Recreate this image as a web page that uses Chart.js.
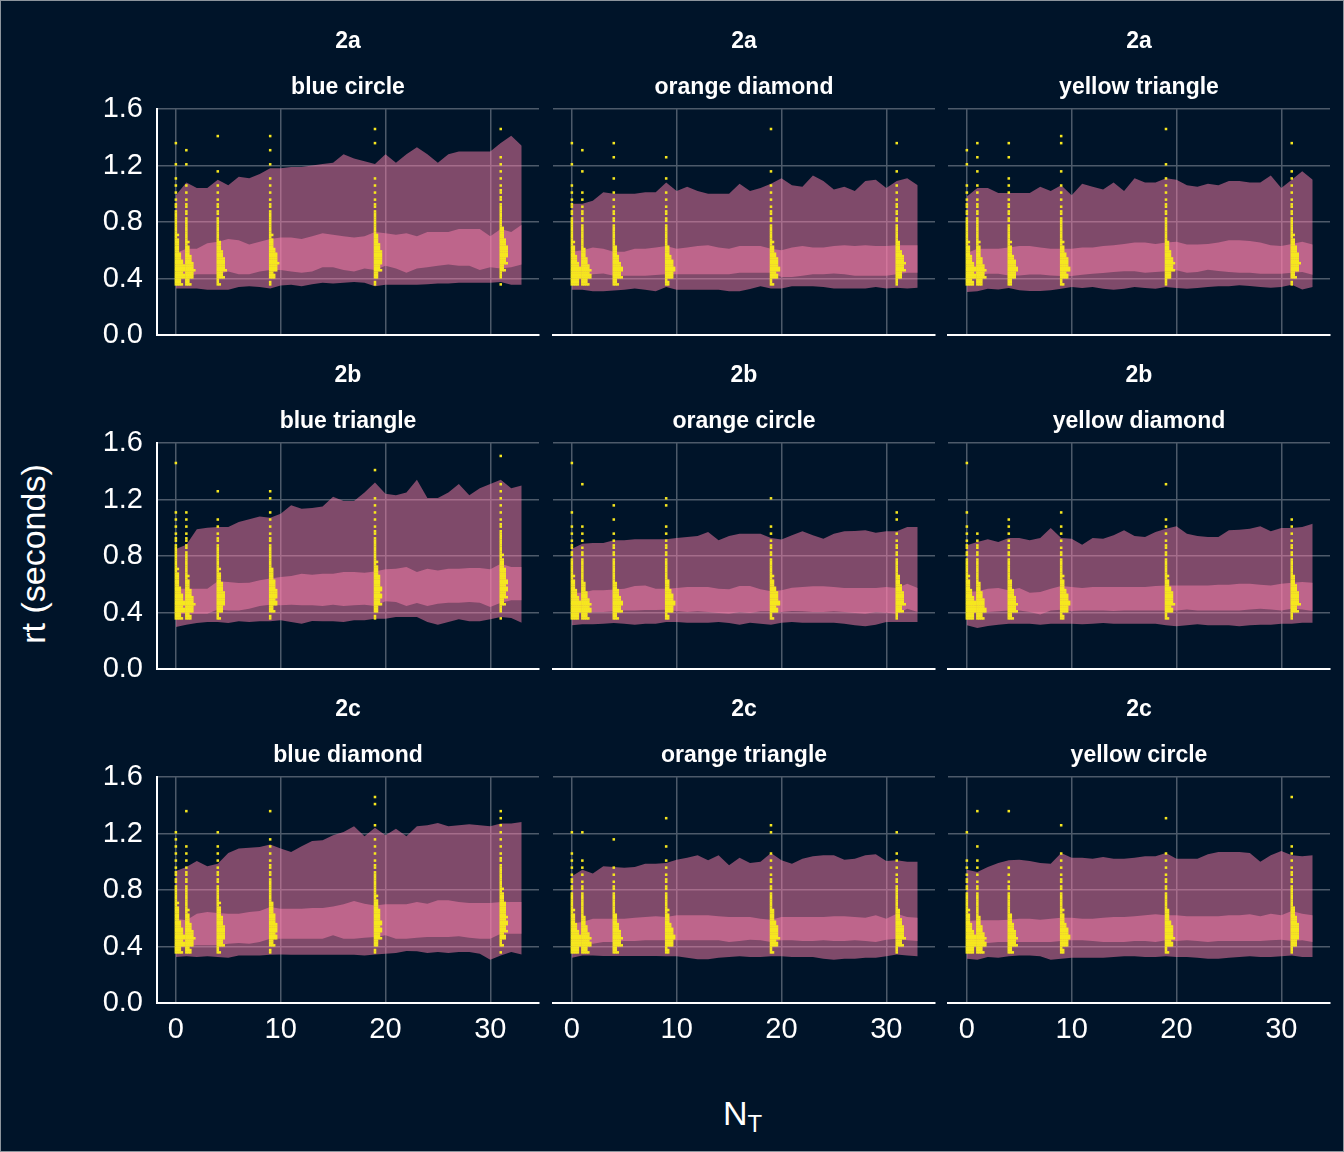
<!DOCTYPE html>
<html>
<head>
<meta charset="utf-8">
<script src="https://cdn.jsdelivr.net/npm/chart.js@4.4.1/dist/chart.umd.min.js"></script>
<style>
  html, body { margin: 0; padding: 0; background: #001429; }
  #fig { position: relative; width: 1344px; height: 1152px; overflow: hidden; background: #001429; }
  #fig canvas { position: absolute; }
  #frame { position: absolute; left: 0; top: 0; width: 1344px; height: 1152px; box-sizing: border-box; border: 1px solid #8c949c; pointer-events: none; }
  #ytitle { position: absolute; left: 33px; top: 554px; transform: translate(-50%, -50%) rotate(-90deg); color: #ffffff; font-family: 'Liberation Sans', Arial, sans-serif; font-size: 34px; line-height: 34px; white-space: nowrap; }
  #xtitle { position: absolute; left: 723px; top: 1096px; color: #ffffff; font-family: 'Liberation Sans', Arial, sans-serif; font-size: 34px; line-height: 34px; white-space: nowrap; }
  #xtitle span { font-size: 24px; position: relative; top: 7px; }
</style>
</head>
<body>
<div id="fig">
  <div id="ytitle">rt (seconds)</div>
  <div id="xtitle">N<span>T</span></div>
  <div id="frame"></div>
</div>
<script>
// ---------------- DATA ----------------
const stripTop = ['2a', '2a', '2a', '2b', '2b', '2b', '2c', '2c', '2c'];
const stripBottom = ['blue circle', 'orange diamond', 'yellow triangle',
                     'blue triangle', 'orange circle', 'yellow diamond',
                     'blue diamond', 'orange triangle', 'yellow circle'];
const xTicks = [0, 10, 20, 30];
const yTicks = [0, 0.4, 0.8, 1.2, 1.6];
// ribbon x positions (N_T)
const bandX = [0,1,2,3,4,5,6,7,8,9,10,11,12,13,14,15,16,17,18,19,20,21,22,23,24,25,26,27,28,29,30,31,32,33];
// observed-point columns (N_T values)
const dotColumnsX = [0, 1, 4, 9, 19, 31];
// dot histogram bins: lower edge of first bin and bin width (rt, seconds)
const dotBinStart = 0.35;
const dotBinWidth = 0.05;

// blue circle (2a)
const p1OuterHi = [0.99,1.08,1.04,1.04,1.10,1.06,1.12,1.11,1.14,1.18,1.18,1.19,1.19,1.20,1.21,1.22,1.28,1.25,1.23,1.21,1.28,1.22,1.28,1.33,1.28,1.22,1.28,1.30,1.30,1.30,1.30,1.36,1.41,1.34];
const p1InnerHi = [0.58,0.61,0.61,0.65,0.66,0.68,0.67,0.64,0.66,0.68,0.69,0.69,0.68,0.70,0.72,0.71,0.70,0.69,0.70,0.73,0.72,0.71,0.72,0.70,0.73,0.73,0.73,0.75,0.75,0.75,0.70,0.75,0.73,0.78];
const p1InnerLo = [0.42,0.42,0.43,0.43,0.43,0.45,0.43,0.43,0.45,0.46,0.46,0.45,0.44,0.45,0.48,0.48,0.46,0.45,0.47,0.46,0.49,0.47,0.44,0.47,0.48,0.49,0.50,0.49,0.49,0.46,0.48,0.47,0.48,0.50];
const p1OuterLo = [0.33,0.33,0.33,0.32,0.32,0.32,0.34,0.345,0.34,0.33,0.35,0.355,0.345,0.36,0.37,0.365,0.37,0.375,0.37,0.345,0.355,0.355,0.355,0.355,0.36,0.365,0.365,0.37,0.37,0.37,0.37,0.375,0.355,0.355];
const p1Dots = [
  [10,14,15,11,8,6,5,4,3,3,2,2,1,1,1,1,0,1,0,0,1,0,0,0],
  [7,12,13,10,7,5,4,3,3,2,2,2,1,1,1,0,0,1,0,1,0,0,0,0],
  [4,10,13,12,9,6,4,3,3,2,2,2,1,1,1,0,1,0,0,0,0,1,0,0],
  [2,8,12,13,11,7,5,4,3,3,2,2,1,1,1,1,0,1,0,1,0,1,0,0],
  [2,6,10,12,12,9,6,4,3,3,2,2,1,1,1,1,0,0,0,0,1,0,1,0],
  [1,3,7,10,12,11,8,6,4,3,3,2,2,2,1,1,1,1,1,0,0,0,1,0]
];

// orange diamond (2a)
const p2OuterHi = [0.93,0.93,0.95,1.01,1.00,1.00,1.00,1.01,1.01,1.08,1.02,1.05,1.02,1.00,1.00,1.00,1.07,1.02,1.04,1.07,1.11,1.06,1.05,1.13,1.09,1.03,1.05,1.02,1.09,1.10,1.04,1.09,1.11,1.06];
const p2InnerHi = [0.59,0.60,0.62,0.61,0.59,0.59,0.61,0.61,0.62,0.63,0.61,0.62,0.63,0.635,0.62,0.61,0.63,0.63,0.63,0.61,0.60,0.62,0.63,0.62,0.62,0.63,0.635,0.63,0.635,0.63,0.63,0.635,0.635,0.635];
const p2InnerLo = [0.41,0.41,0.43,0.435,0.42,0.42,0.42,0.42,0.425,0.43,0.43,0.43,0.43,0.43,0.43,0.43,0.44,0.44,0.44,0.44,0.41,0.41,0.42,0.43,0.43,0.435,0.43,0.42,0.42,0.42,0.42,0.43,0.44,0.44];
const p2OuterLo = [0.32,0.32,0.31,0.31,0.315,0.32,0.33,0.32,0.31,0.34,0.32,0.32,0.32,0.32,0.32,0.31,0.31,0.325,0.345,0.33,0.33,0.345,0.345,0.345,0.34,0.33,0.33,0.33,0.33,0.34,0.33,0.335,0.33,0.335];
const p2Dots = [
  [12,15,14,10,7,5,4,3,3,2,2,2,1,1,1,0,0,1,0,0,1,0,0,0],
  [10,14,13,9,6,4,3,3,2,2,2,1,1,1,0,0,1,0,0,1,0,0,0,0],
  [7,13,14,10,7,5,3,3,2,2,2,1,1,1,0,1,0,0,1,0,1,0,0,0],
  [5,12,14,11,7,5,3,3,2,2,2,1,1,1,0,1,0,0,1,0,0,0,0,0],
  [4,11,14,12,8,5,4,3,2,2,2,1,1,1,1,0,1,0,0,0,0,0,1,0],
  [3,9,13,13,10,6,4,3,2,2,2,2,1,1,1,0,1,0,0,0,1,0,0,0]
];

// yellow triangle (2a)
const p3OuterHi = [0.98,1.04,1.04,1.005,1.005,1.005,1.005,1.05,1.02,1.06,0.99,1.07,1.05,1.03,1.08,1.02,1.11,1.08,1.08,1.11,1.10,1.06,1.05,1.07,1.06,1.09,1.09,1.08,1.08,1.13,1.04,1.10,1.16,1.10];
const p3InnerHi = [0.58,0.61,0.61,0.61,0.62,0.63,0.63,0.62,0.61,0.61,0.61,0.62,0.62,0.63,0.635,0.645,0.655,0.655,0.645,0.655,0.66,0.64,0.64,0.645,0.655,0.67,0.67,0.665,0.655,0.635,0.63,0.645,0.66,0.64];
const p3InnerLo = [0.415,0.427,0.434,0.434,0.422,0.422,0.429,0.429,0.422,0.418,0.418,0.427,0.434,0.439,0.446,0.451,0.451,0.441,0.446,0.451,0.458,0.441,0.446,0.462,0.453,0.446,0.441,0.441,0.434,0.434,0.434,0.441,0.446,0.427];
const p3OuterLo = [0.304,0.309,0.328,0.323,0.333,0.316,0.312,0.312,0.316,0.328,0.340,0.333,0.340,0.328,0.321,0.328,0.340,0.333,0.328,0.340,0.333,0.328,0.333,0.340,0.345,0.345,0.352,0.347,0.340,0.335,0.340,0.356,0.323,0.340];
const p3Dots = [
  [11,14,14,10,7,5,4,3,3,2,2,2,1,1,1,0,0,1,0,1,0,0,0,0],
  [9,13,13,9,6,5,4,3,3,2,2,2,1,1,1,0,1,0,1,0,1,0,0,0],
  [6,12,14,11,7,5,4,3,2,2,2,2,1,1,1,1,0,0,1,0,1,0,0,0],
  [4,11,14,12,8,5,4,3,3,2,2,1,1,1,1,0,1,0,0,0,1,1,0,0],
  [3,9,13,13,9,6,4,3,3,2,2,2,1,1,1,1,0,1,0,0,0,0,1,0],
  [2,7,12,13,11,8,5,4,3,2,2,2,1,1,1,1,1,0,0,0,1,0,0,0]
];

// blue triangle (2b)
const p4OuterHi = [0.85,0.88,0.99,1.00,1.005,1.005,1.04,1.06,1.08,1.07,1.10,1.16,1.135,1.14,1.15,1.22,1.19,1.19,1.25,1.32,1.24,1.23,1.25,1.34,1.21,1.21,1.25,1.31,1.23,1.28,1.31,1.34,1.28,1.30];
const p4InnerHi = [0.569,0.569,0.569,0.569,0.621,0.616,0.609,0.611,0.628,0.640,0.651,0.658,0.675,0.668,0.675,0.675,0.687,0.687,0.682,0.691,0.706,0.710,0.722,0.687,0.710,0.698,0.710,0.710,0.715,0.715,0.706,0.746,0.722,0.722];
const p4InnerLo = [0.392,0.392,0.392,0.392,0.422,0.415,0.415,0.427,0.446,0.455,0.451,0.455,0.451,0.451,0.446,0.455,0.446,0.451,0.455,0.446,0.479,0.474,0.446,0.467,0.446,0.462,0.469,0.469,0.474,0.469,0.439,0.469,0.486,0.486];
const p4OuterLo = [0.297,0.314,0.326,0.333,0.333,0.326,0.338,0.333,0.338,0.338,0.345,0.333,0.321,0.340,0.338,0.338,0.333,0.345,0.345,0.356,0.356,0.368,0.368,0.368,0.333,0.314,0.333,0.352,0.338,0.338,0.352,0.368,0.361,0.328];
const p4Dots = [
  [10,14,14,11,8,6,5,4,3,3,2,2,1,1,1,1,0,0,0,0,0,0,1,0],
  [8,12,13,10,7,5,4,3,3,2,2,2,1,1,1,1,0,0,0,0,0,0,0,0],
  [4,9,12,12,9,7,5,4,3,3,2,2,1,1,1,0,0,0,1,0,0,0,0,0],
  [2,7,11,12,10,8,6,4,3,3,2,2,1,1,1,1,0,1,1,0,0,0,0,0],
  [2,6,10,11,11,9,7,5,4,3,3,2,2,1,1,1,1,1,0,0,0,1,0,0],
  [1,3,7,10,11,11,9,7,5,4,3,3,2,2,1,1,1,1,1,1,0,0,0,1]
];

// orange circle (2b)
const p5OuterHi = [0.852,0.887,0.892,0.892,0.911,0.911,0.918,0.918,0.918,0.918,0.927,0.934,0.942,0.970,0.911,0.942,0.958,0.958,0.958,0.927,0.916,0.947,0.975,0.947,0.922,0.958,0.975,0.977,0.982,0.965,0.975,0.975,1.005,1.005];
const p5InnerHi = [0.540,0.540,0.557,0.557,0.562,0.569,0.588,0.592,0.569,0.569,0.573,0.581,0.581,0.581,0.569,0.564,0.588,0.588,0.564,0.550,0.557,0.576,0.581,0.585,0.585,0.581,0.573,0.573,0.573,0.573,0.581,0.573,0.604,0.573];
const p5InnerLo = [0.404,0.404,0.404,0.404,0.408,0.415,0.415,0.418,0.418,0.420,0.411,0.404,0.408,0.404,0.396,0.392,0.404,0.396,0.408,0.408,0.404,0.410,0.408,0.404,0.404,0.408,0.404,0.396,0.392,0.404,0.399,0.392,0.427,0.404];
const p5OuterLo = [0.309,0.316,0.316,0.321,0.326,0.321,0.314,0.321,0.321,0.333,0.333,0.328,0.328,0.328,0.333,0.326,0.314,0.328,0.321,0.314,0.328,0.333,0.328,0.328,0.328,0.328,0.321,0.309,0.302,0.314,0.333,0.333,0.333,0.333];
const p5Dots = [
  [12,15,14,10,7,5,4,3,2,2,2,1,1,1,0,1,0,0,0,0,0,0,1,0],
  [10,14,13,9,6,4,3,3,2,2,1,1,1,1,0,0,0,0,0,1,0,0,0,0],
  [7,13,14,10,7,4,3,3,2,2,2,1,1,0,1,0,1,0,0,0,0,0,0,0],
  [5,12,14,11,7,5,3,3,2,2,2,1,1,1,0,0,1,1,0,0,0,0,0,0],
  [4,11,14,12,8,5,4,3,2,2,2,1,1,1,0,0,0,1,0,0,0,0,0,0],
  [3,10,13,12,9,6,4,3,2,2,2,1,1,0,1,1,0,0,0,0,0,0,0,0]
];

// yellow diamond (2b)
const p6OuterHi = [0.876,0.899,0.918,0.899,0.927,0.927,0.911,0.927,0.998,0.927,0.922,0.880,0.927,0.922,0.947,0.982,0.942,0.934,0.970,0.993,1.010,0.958,0.942,0.934,0.934,0.982,0.986,0.993,1.010,0.975,0.998,0.998,1.005,1.029];
const p6InnerHi = [0.545,0.550,0.569,0.573,0.557,0.573,0.540,0.545,0.569,0.588,0.581,0.573,0.581,0.581,0.581,0.581,0.581,0.581,0.588,0.592,0.592,0.592,0.592,0.592,0.597,0.597,0.604,0.604,0.597,0.592,0.604,0.611,0.616,0.611];
const p6InnerLo = [0.392,0.404,0.404,0.408,0.415,0.415,0.404,0.385,0.415,0.420,0.410,0.415,0.415,0.415,0.410,0.415,0.415,0.415,0.415,0.415,0.415,0.422,0.415,0.415,0.415,0.415,0.415,0.422,0.427,0.422,0.415,0.427,0.422,0.410];
const p6OuterLo = [0.309,0.290,0.304,0.314,0.321,0.321,0.321,0.314,0.321,0.321,0.321,0.316,0.321,0.326,0.321,0.321,0.321,0.321,0.321,0.309,0.302,0.309,0.316,0.309,0.309,0.309,0.302,0.309,0.314,0.314,0.321,0.321,0.328,0.328];
const p6Dots = [
  [12,15,14,10,7,5,4,3,2,2,2,1,1,1,0,1,0,0,0,0,0,0,1,0],
  [10,14,12,9,6,4,3,3,2,2,2,1,1,0,0,0,0,0,0,0,0,0,0,0],
  [7,13,13,10,7,5,3,3,2,2,2,1,1,1,1,0,0,0,0,0,0,0,0,0],
  [5,12,14,11,7,5,4,3,2,2,1,1,1,1,0,1,0,0,0,0,0,0,0,0],
  [4,11,13,12,8,5,4,3,2,2,2,1,1,1,1,0,0,0,0,1,0,0,0,0],
  [3,10,13,12,9,6,4,3,2,2,2,1,1,1,1,0,0,0,0,0,0,0,0,0]
];

// blue diamond (2c)
const p7OuterHi = [0.935,0.963,1.005,0.968,0.986,1.062,1.093,1.100,1.104,1.123,1.093,1.069,1.109,1.147,1.152,1.187,1.211,1.251,1.180,1.241,1.187,1.234,1.180,1.251,1.258,1.274,1.251,1.258,1.265,1.258,1.251,1.270,1.270,1.281];
const p7InnerHi = [0.597,0.585,0.632,0.644,0.637,0.632,0.632,0.644,0.651,0.680,0.668,0.668,0.668,0.672,0.672,0.684,0.699,0.722,0.703,0.691,0.699,0.699,0.699,0.715,0.703,0.727,0.727,0.715,0.708,0.708,0.708,0.715,0.715,0.715];
const p7InnerLo = [0.396,0.401,0.408,0.408,0.408,0.420,0.425,0.420,0.432,0.455,0.455,0.455,0.455,0.455,0.455,0.479,0.455,0.455,0.462,0.467,0.479,0.455,0.455,0.462,0.467,0.467,0.467,0.472,0.462,0.455,0.455,0.491,0.491,0.491];
const p7OuterLo = [0.326,0.331,0.326,0.331,0.326,0.321,0.337,0.337,0.337,0.342,0.344,0.342,0.342,0.342,0.342,0.342,0.342,0.342,0.337,0.344,0.349,0.354,0.368,0.366,0.354,0.361,0.354,0.361,0.361,0.349,0.307,0.337,0.361,0.344];
const p7Dots = [
  [10,14,14,11,8,6,5,4,3,2,2,2,1,1,1,1,1,1,0,0,0,0,0,0],
  [8,12,13,10,7,5,4,3,3,2,2,2,1,1,1,1,0,0,0,0,1,0,0,0],
  [4,10,12,12,9,7,5,4,3,2,2,2,1,1,1,1,0,1,0,0,0,0,0,0],
  [2,7,11,12,10,8,6,4,3,3,2,2,2,1,1,1,1,0,0,0,1,0,0,0],
  [2,6,10,11,11,9,7,5,4,3,3,2,2,1,1,1,1,0,1,0,0,1,1,0],
  [1,4,8,10,11,10,9,7,5,4,3,3,2,2,1,1,1,1,1,1,1,0,0,0]
];

// orange triangle (2c)
const p8OuterHi = [0.897,0.944,0.916,0.968,0.963,0.958,0.963,0.986,0.986,0.991,1.015,1.029,1.046,1.010,1.046,0.975,1.029,0.991,1.000,1.062,1.010,0.986,1.022,1.039,1.046,1.046,1.015,1.022,1.046,1.053,1.005,1.010,1.000,1.000];
const p8InnerHi = [0.562,0.573,0.597,0.597,0.597,0.597,0.604,0.609,0.614,0.609,0.621,0.621,0.621,0.621,0.614,0.609,0.609,0.609,0.597,0.590,0.609,0.609,0.609,0.609,0.609,0.614,0.614,0.609,0.604,0.621,0.597,0.632,0.609,0.604];
const p8InnerLo = [0.415,0.425,0.420,0.432,0.432,0.439,0.439,0.444,0.444,0.444,0.444,0.444,0.444,0.444,0.444,0.432,0.439,0.448,0.444,0.432,0.444,0.444,0.439,0.439,0.444,0.439,0.439,0.444,0.439,0.432,0.448,0.455,0.444,0.439];
const p8OuterLo = [0.321,0.337,0.337,0.333,0.333,0.333,0.333,0.333,0.333,0.331,0.331,0.321,0.309,0.309,0.321,0.326,0.331,0.326,0.326,0.331,0.331,0.326,0.326,0.326,0.314,0.307,0.314,0.314,0.321,0.321,0.331,0.344,0.337,0.331];
const p8Dots = [
  [12,15,14,10,7,5,4,3,2,2,2,1,1,1,1,0,0,1,0,0,0,0,0,0],
  [10,14,13,9,6,4,3,3,2,2,1,1,1,1,0,0,0,1,0,0,0,0,0,0],
  [7,13,13,10,7,5,3,3,2,2,1,1,1,0,0,0,1,0,0,0,0,0,0,0],
  [5,12,14,11,7,5,4,3,2,2,2,1,1,1,0,1,0,0,0,1,0,0,0,0],
  [4,11,13,12,8,6,4,3,2,2,2,1,1,1,1,0,0,1,1,0,0,0,0,0],
  [3,10,13,12,9,6,4,3,3,2,2,1,1,1,1,0,0,1,0,0,0,0,0,0]
];

// yellow circle (2c)
const p9OuterHi = [0.944,0.927,0.963,0.991,1.010,1.015,1.005,0.991,0.986,1.062,1.029,1.029,1.022,1.034,1.022,1.022,1.029,1.039,1.039,1.062,1.022,1.022,1.022,1.053,1.069,1.069,1.069,1.062,1.000,1.046,1.076,1.046,1.039,1.046];
const p9InnerHi = [0.581,0.585,0.585,0.585,0.590,0.597,0.597,0.590,0.597,0.604,0.604,0.597,0.597,0.604,0.609,0.609,0.614,0.621,0.628,0.621,0.621,0.614,0.614,0.614,0.614,0.621,0.621,0.628,0.614,0.632,0.621,0.651,0.632,0.621];
const p9InnerLo = [0.408,0.420,0.425,0.432,0.432,0.432,0.432,0.432,0.432,0.439,0.444,0.444,0.439,0.432,0.432,0.432,0.439,0.439,0.432,0.444,0.439,0.444,0.439,0.432,0.439,0.439,0.439,0.439,0.439,0.444,0.448,0.439,0.444,0.432];
const p9OuterLo = [0.314,0.307,0.326,0.321,0.331,0.337,0.337,0.331,0.307,0.314,0.321,0.321,0.321,0.321,0.326,0.331,0.331,0.326,0.326,0.331,0.326,0.326,0.321,0.314,0.314,0.321,0.326,0.331,0.326,0.326,0.331,0.337,0.326,0.326];
const p9Dots = [
  [12,15,14,10,7,5,4,3,2,2,2,1,1,1,0,0,0,1,0,0,0,0,0,0],
  [10,14,13,9,6,4,3,3,2,2,1,1,1,1,0,1,0,0,0,0,1,0,0,0],
  [7,13,13,10,7,5,3,3,2,2,1,1,1,0,0,0,0,0,0,0,1,0,0,0],
  [5,12,14,11,7,5,4,3,2,2,2,1,1,1,1,0,0,0,1,0,0,0,0,0],
  [4,11,13,12,8,6,4,3,2,2,2,1,1,1,1,0,0,0,0,1,0,0,0,0],
  [3,9,12,12,10,7,5,3,3,2,2,2,1,1,1,1,0,0,0,0,0,0,1,0]
];

const outerHi = [p1OuterHi, p2OuterHi, p3OuterHi, p4OuterHi, p5OuterHi, p6OuterHi, p7OuterHi, p8OuterHi, p9OuterHi];
const innerHi = [p1InnerHi, p2InnerHi, p3InnerHi, p4InnerHi, p5InnerHi, p6InnerHi, p7InnerHi, p8InnerHi, p9InnerHi];
const innerLo = [p1InnerLo, p2InnerLo, p3InnerLo, p4InnerLo, p5InnerLo, p6InnerLo, p7InnerLo, p8InnerLo, p9InnerLo];
const outerLo = [p1OuterLo, p2OuterLo, p3OuterLo, p4OuterLo, p5OuterLo, p6OuterLo, p7OuterLo, p8OuterLo, p9OuterLo];
const dotCounts = [p1Dots, p2Dots, p3Dots, p4Dots, p5Dots, p6Dots, p7Dots, p8Dots, p9Dots];

// ---------------- STYLE / LAYOUT ----------------
const FONT = "'Liberation Sans', Arial, sans-serif";
const TEXT = '#ffffff';
const GRID = '#4d5a6a';
const RIBBON = 'rgba(254, 128, 172, 0.5)';
const DOT = '#f6e71f';
const DOT_ROWS = 3;       // dot rows per histogram bin
const DOT_STEP_X = 0.19;  // horizontal stacking step (x units)
const YW = 100, XH = 60, STRIP = 87, PW = 382, PH = 226, RPAD = 4;
const W = YW + PW + RPAD, H = STRIP + PH + XH;
const colLeft = [157, 553, 948];
const rowTop = [109, 443, 777];

function toXY(ys) { return bandX.map((x, i) => ({ x: x, y: ys[i] })); }
function dotsFor(counts) {
  const pts = [];
  counts.forEach((col, ci) => {
    const cx = dotColumnsX[ci];
    col.forEach((n, bi) => {
      for (let k = 0; k < n; k++) {
        const row = k % DOT_ROWS, stack = Math.floor(k / DOT_ROWS);
        pts.push({ x: cx + stack * DOT_STEP_X,
                   y: dotBinStart + bi * dotBinWidth + (row + 0.5) * dotBinWidth / DOT_ROWS });
      }
    });
  });
  return pts;
}

const fig = document.getElementById('fig');
const frame = document.getElementById('frame');

for (let p = 0; p < 9; p++) {
  const r = Math.floor(p / 3), c = p % 3;
  const cv = document.createElement('canvas');
  cv.width = W; cv.height = H;
  cv.style.left = (colLeft[c] - YW) + 'px';
  cv.style.top = (rowTop[r] - STRIP) + 'px';
  cv.style.width = W + 'px'; cv.style.height = H + 'px';
  fig.insertBefore(cv, frame);

  const lineBase = { type: 'line', borderColor: 'rgba(0,0,0,0)', borderWidth: 0, pointRadius: 0, pointHoverRadius: 0, tension: 0 };

  new Chart(cv, {
    type: 'line',
    data: {
      datasets: [
        { type: 'scatter', data: dotsFor(dotCounts[p]), pointStyle: 'rect', pointRadius: 1.8, pointHoverRadius: 1.8,
          backgroundColor: DOT, borderWidth: 0, order: 0 },
        Object.assign({}, lineBase, { data: toXY(innerLo[p]), fill: false, order: 1 }),
        Object.assign({}, lineBase, { data: toXY(innerHi[p]), fill: 1, backgroundColor: RIBBON, order: 1 }),
        Object.assign({}, lineBase, { data: toXY(outerLo[p]), fill: false, order: 2 }),
        Object.assign({}, lineBase, { data: toXY(outerHi[p]), fill: 3, backgroundColor: RIBBON, order: 2 })
      ]
    },
    options: {
      responsive: false,
      animation: false,
      events: [],
      layout: { padding: { left: 0, right: RPAD, top: 0, bottom: 0 } },
      plugins: {
        legend: { display: false },
        tooltip: { enabled: false },
        title: { display: true, text: stripTop[p], fullSize: false, color: TEXT,
                 font: { family: FONT, size: 23, weight: 'bold', lineHeight: '28px' },
                 padding: { top: 6, bottom: 9 } },
        subtitle: { display: true, text: stripBottom[p], fullSize: false, color: TEXT,
                    font: { family: FONT, size: 23, weight: 'bold', lineHeight: '28px' },
                    padding: { top: 9, bottom: 7 } }
      },
      scales: {
        x: {
          type: 'linear', min: -1.8, max: 34.65,
          afterBuildTicks: s => { s.ticks = xTicks.map(v => ({ value: v })); },
          afterFit: s => { s.height = XH; },
          grid: { color: GRID, lineWidth: 1.5, drawTicks: false },
          border: { display: true, color: '#ffffff', width: 2 },
          ticks: { display: r === 2, color: TEXT, font: { family: FONT, size: 29 }, padding: 10,
                   maxRotation: 0, autoSkip: false }
        },
        y: {
          type: 'linear', min: 0, max: 1.6,
          afterBuildTicks: s => { s.ticks = yTicks.map(v => ({ value: v })); },
          afterFit: s => { s.width = YW; },
          grid: { color: ctx => (ctx.tick && ctx.tick.value === 0) ? 'rgba(0,0,0,0)' : GRID,
                  lineWidth: 1.5, drawTicks: false },
          border: { display: c === 0, color: '#ffffff', width: 2 },
          ticks: { display: c === 0, color: TEXT, font: { family: FONT, size: 29 }, padding: 14,
                   callback: v => Number(v).toFixed(1) }
        }
      }
    }
  });
}
</script>
</body>
</html>
